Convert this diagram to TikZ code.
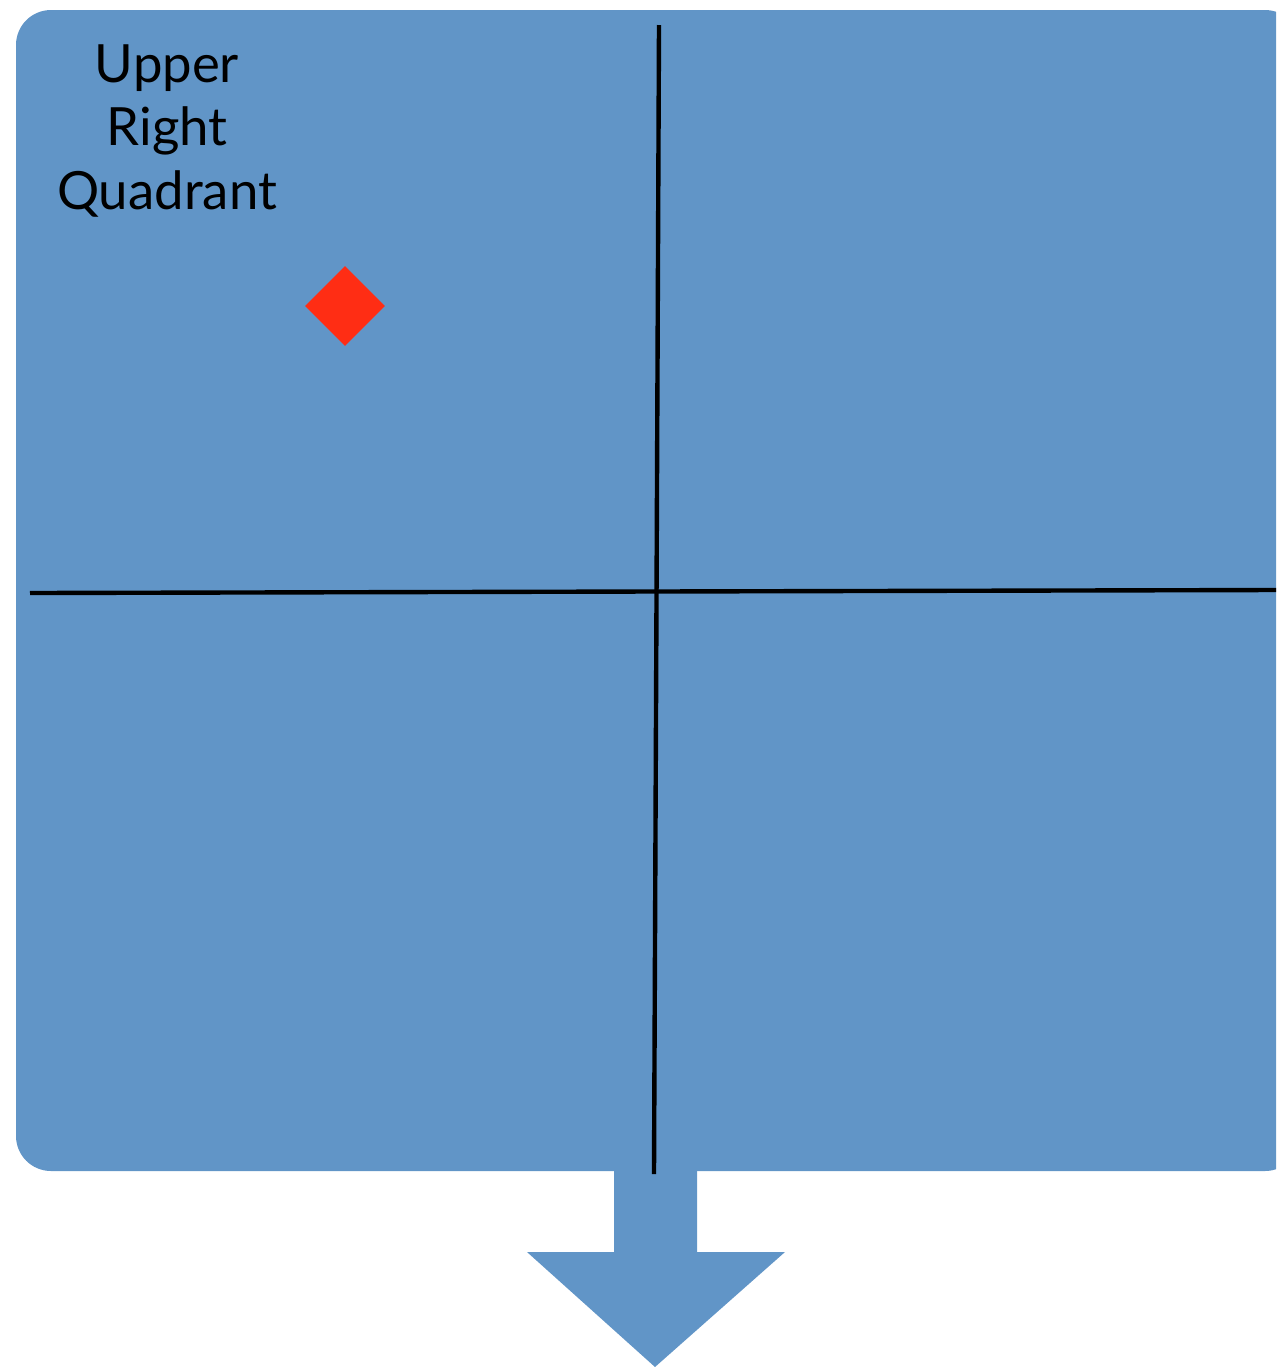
\documentclass[tikz,border=0pt]{standalone}
\usepackage{fontspec}
\setmainfont{Lato}
\usetikzlibrary{positioning, shapes.geometric}
\definecolor{panelblue}{RGB}{97,149,199}
\definecolor{markred}{RGB}{255,45,20}

\begin{document}
\begin{tikzpicture}[x=0.02cm, y=-0.02cm,
  panel/.style={fill=panelblue, draw=none},
  axis/.style={line width=2.5pt, black},
  marker/.style={diamond, fill=markred, draw=none, inner sep=0pt,
                 minimum width=80*0.02cm, minimum height=80*0.02cm},
  label/.style={align=center, font=\fontsize{30}{36}\selectfont}
]
\useasboundingbox (0,0) rectangle (1276,1367);
\begin{scope}
\clip (0,0) rectangle (1276,1367);
\fill[panel, rounded corners=35*0.02cm] (16,10) rectangle (1300,1171);
\end{scope}
% arrow below the panel
\fill[panel] (614,1165) -- (697,1165) -- (697,1252) -- (785,1252)
  -- (655,1367) -- (527,1252) -- (614,1252) -- cycle;
\coordinate (top) at (659,25);
\coordinate (bottom) at (654,1174);
\coordinate (left) at (30,593);
\coordinate (right) at (1276,590);
\draw[axis] (top) -- (bottom);
\draw[axis] (left) -- (right);
\node[label] (quad) at (167,131) {Upper\\Right\\Quadrant};
\node[marker] (pt) at (345,306) {};
\end{tikzpicture}
\end{document}
